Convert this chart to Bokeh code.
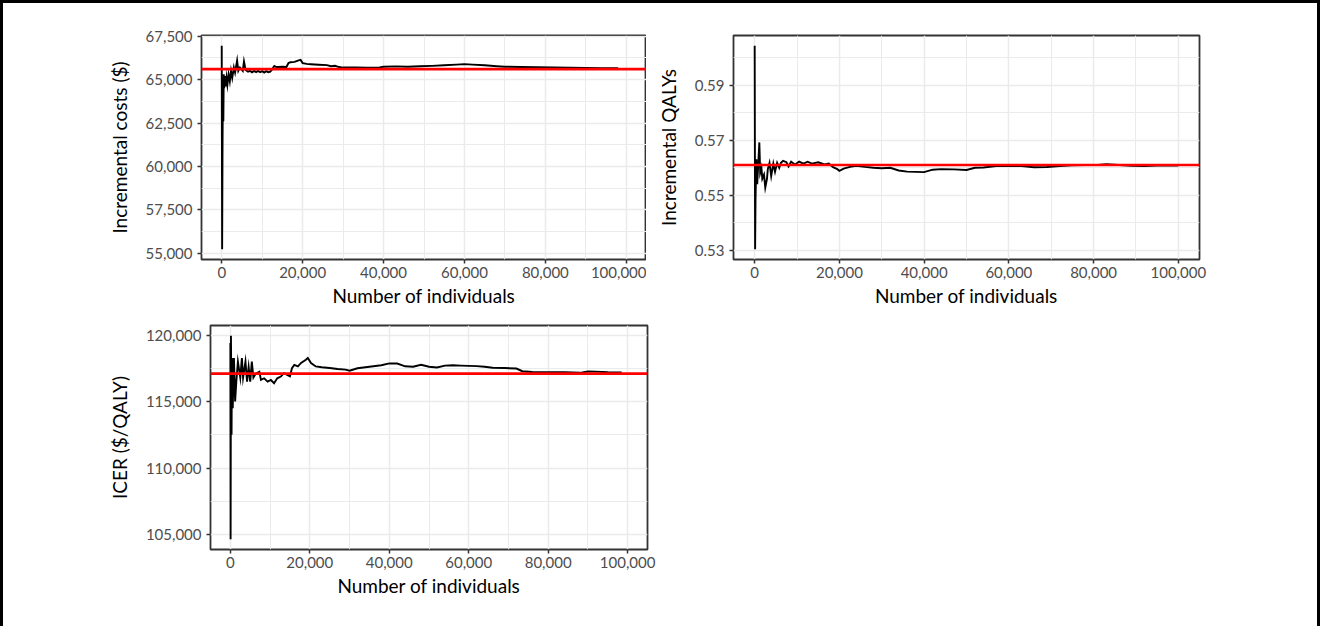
from bokeh.plotting import figure
from bokeh.layouts import column, row
from bokeh.models import FixedTicker, NumeralTickFormatter, Span, Range1d
from bokeh.embed import file_html
from bokeh.resources import INLINE

# ---------------- data ----------------
x_limits = [0, 100000]
x_ticks = [0, 20000, 40000, 60000, 80000, 100000]
x_minor = [10000, 30000, 50000, 70000, 90000]

n_costs = [0, 100, 200, 300, 400, 500, 600, 800, 1000, 1200, 1400, 1700, 2000, 2300, 2600,
           3000, 3300, 3800, 4100, 4500, 5200, 5500, 5900, 6500, 7000, 7500, 8000, 8500, 9000,
           9500, 10000, 10500, 11000, 11500, 12000, 12500, 13000, 13500, 14000, 15000, 16000,
           16500, 17000, 18000, 19000, 19500, 20000, 21000, 22000, 24000, 26000, 27000, 28000,
           29000, 30000, 33000, 36000, 39000, 40000, 43000, 46000, 49000, 52000, 55000, 58000,
           60000, 62000, 65000, 68000, 70000, 74000, 78000, 82000, 86000, 90000, 94000, 98000]
inc_costs = [66950, 55230, 61200, 64800, 62600, 65300, 64500, 65200, 64600, 65100, 64700, 65300,
             64900, 65500, 65100, 65700, 65400, 66100, 65500, 65700, 65500, 66050, 65550, 65450,
             65500, 65420, 65500, 65430, 65500, 65420, 65480, 65400, 65480, 65420, 65460, 65600,
             65780, 65720, 65720, 65740, 65720, 65950, 66000, 66020, 66100, 66130, 65950, 65900,
             65880, 65850, 65830, 65770, 65790, 65720, 65690, 65700, 65680, 65700, 65740, 65760,
             65740, 65770, 65790, 65820, 65860, 65890, 65860, 65820, 65770, 65740, 65720, 65710,
             65690, 65680, 65670, 65660, 65650]
mean_cost = 65600
cost_ticks = [55000, 57500, 60000, 62500, 65000, 67500]
cost_minor = [56250, 58750, 61250, 63750, 66250]

n_qalys = [0, 100, 200, 400, 600, 800, 1100, 1300, 1600, 1800, 2200, 2500, 2900, 3100, 3500,
           3900, 4400, 4800, 5300, 5800, 6200, 6700, 7500, 8000, 8600, 9500, 10500, 11500,
           12500, 13500, 15000, 16500, 17500, 18500, 19500, 20000, 21000, 22500, 24000, 26000,
           28000, 30000, 32000, 34000, 36000, 38000, 40000, 42000, 44000, 47000, 50000, 52000,
           54000, 57000, 60000, 63000, 66000, 69000, 72000, 75000, 78000, 81000, 83000, 86000,
           89000, 92000, 95000, 100000]
inc_qalys = [0.6043, 0.5304, 0.5485, 0.5631, 0.5540, 0.5600, 0.5692, 0.5582, 0.5600, 0.5560,
             0.5575, 0.5528, 0.5560, 0.5595, 0.5618, 0.5570, 0.5615, 0.5585, 0.5618, 0.5600,
             0.5618, 0.5625, 0.5620, 0.5605, 0.5622, 0.5612, 0.5622, 0.5615, 0.5622, 0.5615,
             0.5620, 0.5612, 0.5615, 0.5602, 0.5595, 0.5589, 0.5597, 0.5603, 0.5607, 0.5603,
             0.5600, 0.5598, 0.5600, 0.5590, 0.5586, 0.5585, 0.5584, 0.5593, 0.5595, 0.5594,
             0.5592, 0.5600, 0.5601, 0.5606, 0.5607, 0.5606, 0.5602, 0.5603, 0.5606, 0.5609,
             0.5610, 0.5610, 0.5613, 0.5610, 0.5607, 0.5606, 0.5608, 0.5608]
mean_qaly = 0.561
qaly_ticks = [0.53, 0.55, 0.57, 0.59]
qaly_minor = [0.54, 0.56, 0.58, 0.60]

n_icer = [0, 60, 150, 300, 400, 600, 900, 1200, 1500, 1900, 2500, 2900, 3200, 3800, 4200, 4600,
          5000, 5400, 5800, 6400, 7300, 7700, 8500, 9400, 10200, 11000, 11800, 12700, 13500,
          14300, 15000, 15500, 16100, 17000, 17800, 19000, 19500, 20300, 21500, 23000, 25000,
          27000, 29000, 30000, 32000, 34000, 36000, 38000, 40000, 42000, 44000, 46000, 48000,
          50000, 52000, 54000, 56000, 58000, 60000, 62000, 64000, 66000, 69000, 72000, 73500,
          76000, 80000, 84000, 88000, 90000, 92000, 95000, 98500]
icer = [119400, 104650, 119950, 112500, 118270, 114500, 118270, 115000, 116500, 118000, 116800,
        118270, 116800, 118000, 116500, 117600, 116500, 118000, 116800, 117100, 117250, 116630,
        116750, 116500, 116620, 116380, 116750, 116880, 117130, 117000, 116900, 117510, 117760,
        117640, 117900, 118140, 118270, 117900, 117640, 117580, 117520, 117450, 117400, 117320,
        117500, 117580, 117650, 117730, 117870, 117860, 117650, 117620, 117760, 117620, 117560,
        117700, 117730, 117700, 117680, 117660, 117620, 117540, 117520, 117480, 117280, 117220,
        117200, 117210, 117160, 117260, 117250, 117200, 117190]
mean_icer = 117100
icer_ticks = [105000, 110000, 115000, 120000]
icer_minor = [107500, 112500, 117500]

x_title = "Number of individuals"

FONT = "Lato"
GRID = "#ebebeb"


def make_panel(xs, ys, ref, yticks, yminor, yfmt, ylabel, frame_w,
               b_left, b_right, b_top, b_bottom, ylab_std):
    lo, hi = min(ys), max(ys)
    pad = 0.05 * (hi - lo)
    x0, x1 = x_limits
    xpad = 0.05 * (x1 - x0)
    p = figure(frame_width=frame_w, frame_height=224, output_backend="svg",
               toolbar_location=None,
               x_range=Range1d(x0 - xpad, x1 + xpad), y_range=Range1d(lo - pad, hi + pad),
               min_border_left=b_left, min_border_right=b_right,
               min_border_top=b_top, min_border_bottom=b_bottom)
    p.background_fill_color = "white"
    p.border_fill_color = "white"
    p.outline_line_color = "#333333"
    p.outline_line_width = 1.8

    p.xaxis.ticker = FixedTicker(ticks=x_ticks, minor_ticks=x_minor)
    p.yaxis.ticker = FixedTicker(ticks=yticks, minor_ticks=yminor)
    p.xaxis.formatter = NumeralTickFormatter(format="0,0")
    p.yaxis.formatter = NumeralTickFormatter(format=yfmt)

    for ax in (p.xaxis, p.yaxis):
        ax.axis_line_color = None
        ax.minor_tick_line_color = None
        ax.major_tick_line_color = "#333333"
        ax.major_tick_line_width = 1.5
        ax.major_tick_in = 0
        ax.major_tick_out = 4
        ax.major_label_text_font = FONT
        ax.major_label_text_font_size = "15px"
        ax.major_label_text_color = "#4d4d4d"
        ax.axis_label_text_font = FONT
        ax.axis_label_text_font_size = "19px"
        ax.axis_label_text_font_style = "normal"
        ax.axis_label_text_color = "black"
    p.xaxis.axis_label = x_title
    p.yaxis.axis_label = ylabel
    p.xaxis.major_label_standoff = 3
    p.xaxis.axis_label_standoff = 3
    p.yaxis.major_label_standoff = 5
    p.yaxis.axis_label_standoff = ylab_std

    for g in (p.xgrid, p.ygrid):
        g.grid_line_color = GRID
        g.grid_line_width = 1.5
        g.minor_grid_line_color = GRID
        g.minor_grid_line_width = 1.0

    p.line(xs, ys, line_color="black", line_width=1.9, line_join="miter")
    p.add_layout(Span(location=ref, dimension="width", line_color="#ff0000", line_width=2.6))
    return p


p1 = make_panel(n_costs, inc_costs, mean_cost, cost_ticks, cost_minor, "0,0",
                "Incremental costs ($)", 445, 198, 0, 32, 50, 12)
p2 = make_panel(n_qalys, inc_qalys, mean_qaly, qaly_ticks, qaly_minor, "0.00",
                "Incremental QALYs", 466, 87, 118, 32, 50, 12)
p3 = make_panel(n_icer, icer, mean_icer, icer_ticks, icer_minor, "0,0",
                "ICER ($/QALY)", 437, 207, 30, 16, 77, 12)

layout = column(row(p1, p2), row(p3),
                styles={"border": "3px solid black", "border-bottom": "none"})

open("out.html", "w").write(file_html(layout, INLINE))
